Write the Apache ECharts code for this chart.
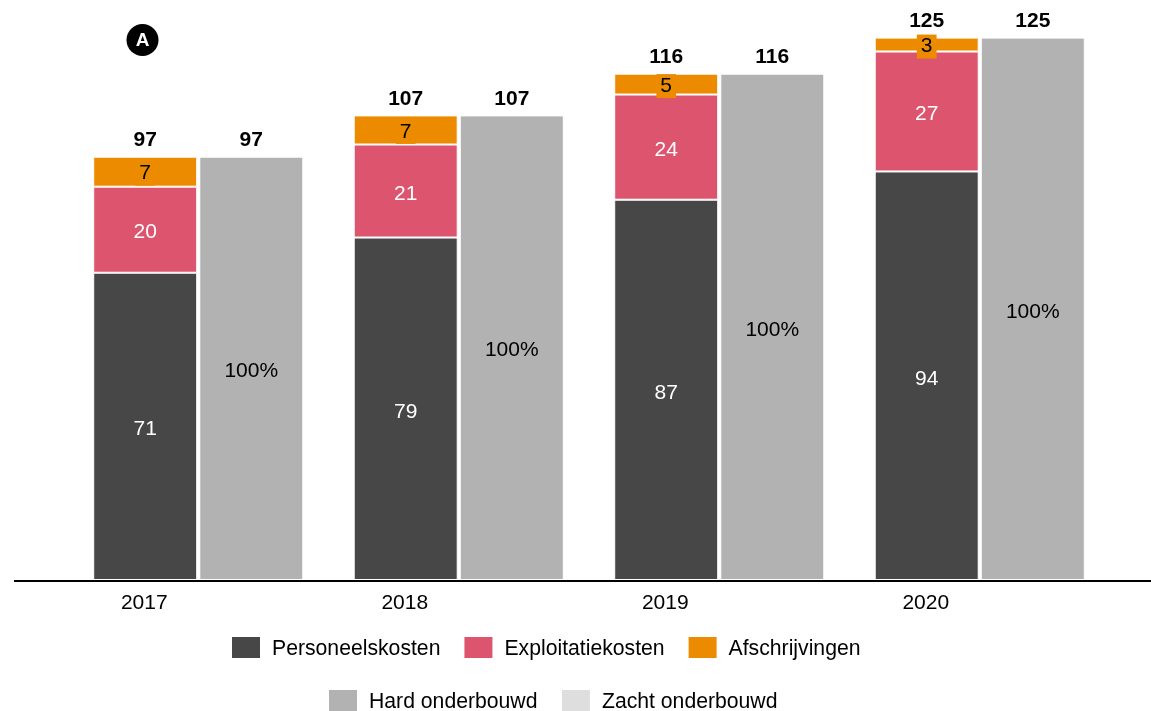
<!DOCTYPE html>
<html lang="nl">
  <head>
    <meta charset="UTF-8" />
    <title>Kosten per jaar</title>
    <style>
      * {
        padding: 0;
        margin: 0;
      }
      body {
        overflow: hidden;
        background: #fff;
      }
    </style>
    <script src="https://cdn.jsdelivr.net/npm/echarts@6/dist/echarts.min.js"></script>
  </head>
  <body>
    <div id="main" style="width: 100vw; height: 100vh;"></div>
    <script type="text/javascript">
      const years = ['2017', '2018', '2019', '2020'];

      // bar heights (labels are the rounded numbers printed in the source)
      const personeelskosten = [70.7, 78.8, 87.5, 94.0];
      const exploitatiekosten = [19.8, 21.4, 24.2, 27.6];
      const afschrijvingen = [6.9, 6.7, 4.8, 3.2];
      const hardOnderbouwd = [97.4, 106.9, 116.5, 124.8];
      const zachtOnderbouwd = [0, 0, 0, 0];

      const personeelLabels = ['71', '79', '87', '94'];
      const exploitatieLabels = ['20', '21', '24', '27'];
      const afschrijvingLabels = ['7', '7', '5', '3'];
      const totalLabels = ['97', '107', '116', '125'];
      const hardLabels = ['100%', '100%', '100%', '100%'];

      const font = 'Liberation Sans';
      const white = {borderColor: '#fff', borderWidth: 1};
      // plain padding does not move legend text down, a rich token does
      const legendText = {
        padding: [0, 0, 0, 7],
        rich: {
          t: {
            fontSize: 21.2,
            fontFamily: font,
            color: '#000',
            lineHeight: 24,
            verticalAlign: 'bottom'
          }
        }
      };

      function labelsFrom(list) {
        return p => list[p.dataIndex];
      }

      var myChart = echarts.init(document.getElementById('main'));

      var option = {
        animation: false,
        backgroundColor: '#fff',
        textStyle: {fontFamily: font},
        grid: {left: 68, right: 41, top: 15, bottom: 131},
        legend: [
          {
            left: 232,
            top: 637,
            padding: 0,
            icon: 'rect',
            itemWidth: 28,
            itemHeight: 21,
            itemGap: 24,
            selectedMode: false,
            itemStyle: {borderWidth: 0},
            formatter: '{t|{name}}',
            textStyle: legendText,
            data: ['Personeelskosten', 'Exploitatiekosten', 'Afschrijvingen']
          },
          {
            left: 329,
            top: 690,
            padding: 0,
            icon: 'rect',
            itemWidth: 28,
            itemHeight: 21,
            itemGap: 24.5,
            selectedMode: false,
            itemStyle: {borderWidth: 0},
            formatter: '{t|{name}}',
            textStyle: legendText,
            data: ['Hard onderbouwd', 'Zacht onderbouwd']
          }
        ],
        xAxis: {
          type: 'category',
          data: years,
          axisLine: {show: false},
          axisTick: {show: false},
          axisLabel: {
            fontSize: 21,
            fontFamily: font,
            color: '#000',
            margin: 13,
            // year sits under the left bar of each pair
            padding: [0, 108, 0, 0]
          }
        },
        yAxis: {type: 'value', min: 0, max: 130, show: false},
        graphic: [
          {
            type: 'line',
            shape: {x1: 14, y1: 581, x2: 1151, y2: 581},
            style: {stroke: '#000', lineWidth: 2}
          },
          {
            type: 'circle',
            shape: {cx: 142.5, cy: 40, r: 16},
            style: {fill: '#000'}
          },
          {
            type: 'text',
            x: 142.5,
            y: 41,
            style: {
              text: 'A',
              fill: '#fff',
              fontSize: 19,
              fontWeight: 'bold',
              fontFamily: font,
              align: 'center',
              verticalAlign: 'middle'
            }
          }
        ],
        series: [
          {
            name: 'Personeelskosten',
            type: 'bar',
            stack: 'kosten',
            barWidth: 104,
            barGap: '2%',
            data: personeelskosten,
            itemStyle: {color: '#474747', ...white},
            label: {
              show: true,
              position: 'inside',
              offset: [0, 3],
              fontSize: 21,
              fontFamily: font,
              color: '#fff',
              formatter: labelsFrom(personeelLabels)
            }
          },
          {
            name: 'Exploitatiekosten',
            type: 'bar',
            stack: 'kosten',
            data: exploitatiekosten,
            itemStyle: {color: '#DC546D', ...white},
            label: {
              show: true,
              position: 'inside',
              offset: [0, 3],
              fontSize: 21,
              fontFamily: font,
              color: '#fff',
              formatter: labelsFrom(exploitatieLabels)
            }
          },
          {
            name: 'Afschrijvingen',
            type: 'bar',
            stack: 'kosten',
            data: afschrijvingen,
            itemStyle: {color: '#EC8B00', ...white},
            label: {
              show: true,
              position: 'inside',
              offset: [0, 2],
              fontSize: 21,
              fontFamily: font,
              color: '#000',
              backgroundColor: '#EC8B00',
              padding: [2, 4, 1, 4],
              formatter: labelsFrom(afschrijvingLabels)
            }
          },
          {
            name: 'Totaal',
            type: 'bar',
            stack: 'kosten',
            data: zachtOnderbouwd,
            itemStyle: {color: 'transparent', borderWidth: 0},
            label: {
              show: true,
              position: 'top',
              distance: 6,
              fontSize: 21,
              fontWeight: 'bold',
              fontFamily: font,
              color: '#000',
              formatter: labelsFrom(totalLabels)
            }
          },
          {
            name: 'Hard onderbouwd',
            type: 'bar',
            stack: 'onderbouwd',
            barWidth: 104,
            data: hardOnderbouwd,
            itemStyle: {color: '#B2B2B2', ...white},
            label: {
              show: true,
              position: 'inside',
              offset: [0, 3],
              fontSize: 21,
              fontFamily: font,
              color: '#000',
              formatter: labelsFrom(hardLabels)
            }
          },
          {
            name: 'Zacht onderbouwd',
            type: 'bar',
            stack: 'onderbouwd',
            data: zachtOnderbouwd,
            itemStyle: {color: '#DEDEDE', borderWidth: 0},
            label: {
              show: true,
              position: 'top',
              distance: 6,
              fontSize: 21,
              fontWeight: 'bold',
              fontFamily: font,
              color: '#000',
              formatter: labelsFrom(totalLabels)
            }
          }
        ]
      };

      myChart.setOption(option, true);
    </script>
  </body>
</html>
